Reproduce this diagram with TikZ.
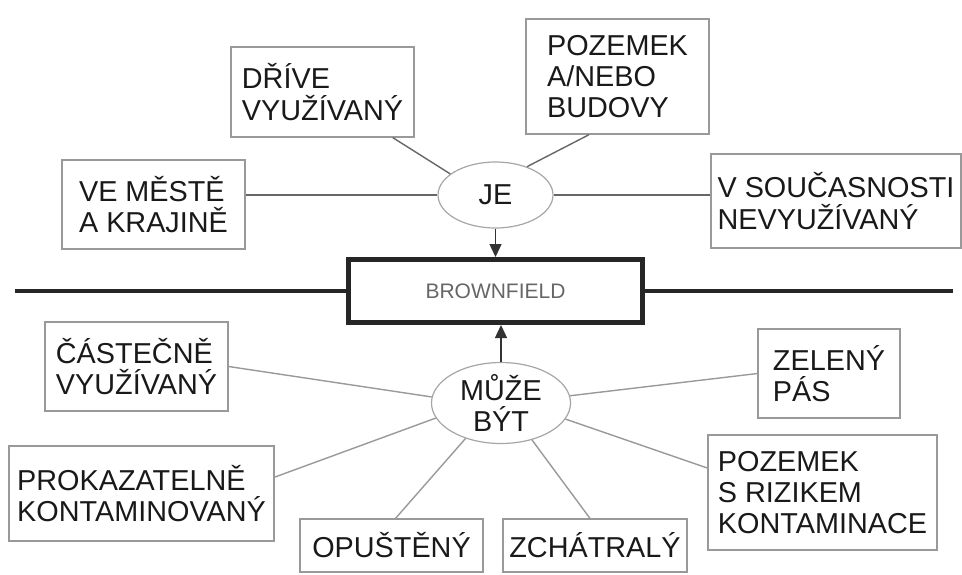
\documentclass[tikz,border=0pt]{standalone}
\usepackage{fontspec}
\setmainfont{Liberation Sans}
\usetikzlibrary{shapes.geometric,arrows.meta}

\begin{document}
\begin{tikzpicture}[x=0.5pt,y=-0.5pt]
    \tikzset{box/.style    = {draw=black!40, line width=0.6pt, align=left,
        inner sep=0pt, text=black!90,
        font=\fontsize{14.4}{15.6}\selectfont},
      hub/.style     = {ellipse, draw=black!35, line width=0.6pt,
        inner sep=0pt, align=center, text=black!90,
        font=\fontsize{14.4}{15.6}\selectfont},
      link/.style    = {draw=black!60, line width=0.7pt},
      linklow/.style = {draw=black!40, line width=0.7pt},
      bar/.style     = {line width=2.2pt, black!85},
      up/.style      = {-{Triangle[length=6.5pt,width=6pt]}, line width=0.7pt, black!80}}

    \def\Bary{291};

    \useasboundingbox (0,0) rectangle (962,574);

    % The main box and the bar through it.
    \node[draw=black!85, line width=2.5pt, minimum width=147pt, minimum height=31.5pt,
      inner sep=0pt, text=black!60, font=\fontsize{10.5}{12}\selectfont]
      (brown) at (495.5,\Bary) {BROWNFIELD};
    \coordinate (barL) at (15,\Bary);
    \coordinate (barR) at (953,\Bary);
    \draw[bar] (barL) -- (brown.west);
    \draw[bar] (brown.east) -- (barR);

    % Upper half: what a brownfield is.
    \node[hub, minimum width=57.5pt, minimum height=33pt] (je) at (495.5,195) {JE};
    \node[box, minimum width=91.5pt, minimum height=45pt] (drive) at (322.5,92)
      {DŘÍVE\\VYUŽÍVANÝ};
    \node[box, minimum width=91.5pt, minimum height=57.5pt] (budovy) at (617.5,76.5)
      {POZEMEK\\A/NEBO\\BUDOVY};
    \node[box, minimum width=91.5pt, minimum height=44.5pt] (mesto) at (153.5,204.5)
      {VE MĚSTĚ\\A KRAJINĚ};
    \node[box, minimum width=125pt, minimum height=47pt] (soucasne) at (836,201)
      {V SOUČASNOSTI\\NEVYUŽÍVANÝ};

    \draw[link] (drive.-33) -- (je.155);
    \draw[link] (budovy.244) -- (je.42);
    \draw[link] (je.west -| mesto.east) -- (je.west);
    \draw[link] (je.east) -- (je.east -| soucasne.west);
    \draw[up] (je.south) -- (brown.north);

    % Lower half: what a brownfield can be.
    \node[hub, minimum width=69.5pt, minimum height=38pt] (muze) at (501,403)
      {MŮŽE\\BÝT};
    \node[box, minimum width=91.5pt, minimum height=44.5pt] (castecne) at (136.5,366.5)
      {ČÁSTEČNĚ\\VYUŽÍVANÝ};
    \node[box, minimum width=132.5pt, minimum height=47.5pt] (prokaz) at (141.5,493.5)
      {PROKAZATELNĚ\\KONTAMINOVANÝ};
    \node[box, minimum width=91.5pt, minimum height=26.5pt] (opusteny) at (391.5,545.5)
      {OPUŠTĚNÝ};
    \node[box, minimum width=92pt, minimum height=26.5pt] (zchatraly) at (595,545.5)
      {ZCHÁTRALÝ};
    \node[box, minimum width=71pt, minimum height=44.5pt] (zeleny) at (829,373.5)
      {ZELENÝ\\PÁS};
    \node[box, minimum width=114.5pt, minimum height=57.5pt] (riziko) at (822.5,492.5)
      {POZEMEK\\S RIZIKEM\\KONTAMINACE};

    \draw[linklow] (castecne.east) -- (muze.175);
    \draw[linklow] (prokaz.7) -- (muze.193);
    \draw[linklow] ([xshift=2pt]opusteny.north) -- (muze.225);
    \draw[linklow] ([xshift=-2.5pt]zchatraly.north) -- (muze.-50);
    \draw[linklow] (zeleny.west) -- (muze.6);
    \draw[linklow] (riziko.168) -- (muze.-14);
    \draw[up] (muze.north) -- (muze.north |- brown.south);
\end{tikzpicture}
\end{document}
